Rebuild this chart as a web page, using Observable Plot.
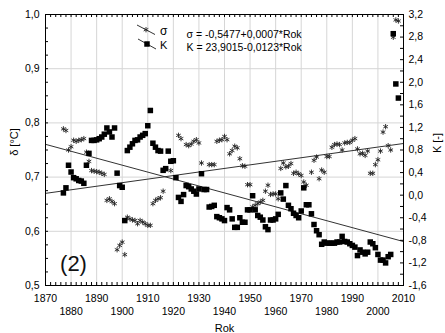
<!DOCTYPE html>
<html><head><meta charset="utf-8">
<script src="https://cdn.jsdelivr.net/npm/d3@7"></script>
<script src="https://cdn.jsdelivr.net/npm/@observablehq/plot@0.6"></script>
<style>body{margin:0;background:#fff} #chart{width:445px;height:333px}</style>
</head><body><div id="chart"></div>
<script>
// ---- data ----
const sigmaYears = [
  1877,1878,1879,1880,1881,1882,1883,1884,1885,1886,
  1887,1888,1889,1890,1891,1892,1893,1894,1895,1896,
  1897,1898,1899,1900,1901,1902,1903,1904,1905,1906,
  1907,1908,1909,1910,1911,1912,1913,1914,1915,1916,
  1919,1920,1922,1923,1925,1926,1927,1928,1929,1930,
  1931,1934,1935,1936,1937,1938,1939,1940,1941,1942,
  1943,1944,1945,1946,1947,1948,1949,1950,1951,1952,
  1953,1954,1955,1956,1957,1958,1959,1960,1961,1962,
  1963,1964,1965,1966,1967,1968,1969,1970,1971,1972,
  1974,1975,1976,1977,1978,1979,1980,1981,1982,1983,
  1984,1985,1986,1987,1988,1989,1990,1991,1992,1993,
  1994,1995,1996,1997,1998,1999,2000,2001,2002,2003,
  2004,2005,2006,2007,2008];
const sigmaValues = [
  0.789,0.786,0.750,0.756,0.768,0.766,0.768,0.769,0.771,0.746,
  0.729,0.712,0.711,0.710,0.709,0.707,0.705,0.657,0.660,0.655,
  0.651,0.566,0.574,0.580,0.557,0.626,0.623,0.621,0.620,0.614,
  0.620,0.617,0.614,0.611,0.611,0.651,0.657,0.660,0.662,0.674,
  0.712,0.730,0.777,0.771,0.760,0.758,0.761,0.766,0.769,0.763,
  0.726,0.723,0.723,0.723,0.766,0.768,0.769,0.775,0.769,0.743,
  0.749,0.757,0.754,0.734,0.721,0.720,0.686,0.686,0.645,0.648,
  0.651,0.654,0.657,0.674,0.685,0.668,0.669,0.669,0.660,0.716,
  0.726,0.719,0.720,0.725,0.707,0.709,0.706,0.703,0.691,0.685,
  0.709,0.731,0.737,0.697,0.713,0.709,0.738,0.738,0.755,0.760,
  0.761,0.760,0.750,0.763,0.764,0.764,0.768,0.771,0.752,0.743,
  0.744,0.740,0.748,0.707,0.707,0.723,0.732,0.748,0.783,0.793,
  0.758,0.750,0.958,0.990,0.988];

const kFirstYear = 1877;
const kValues = [
  0.04, 0.13, 0.53, 0.41, 0.31, 0.29, 0.26, 0.25, 0.21, 0.53,
  0.74, 0.97, 0.97, 0.98, 1.00, 1.03, 1.08, 1.19, 1.12, 1.03,
  1.19, 0.39, 0.17, 0.14,-0.45, 0.79, 0.85, 0.91, 0.97, 0.98,
  1.03, 1.06, 1.09, 1.23, 1.50, 0.92, 0.85, 0.79, 0.78, 0.44,
  0.47, 0.78, 0.60, 0.61, 0.31,-0.04,-0.11, 0.01, 0.17, 0.15,
  0.11, 0.07, 0.02, 0.11, 0.38, 0.10, 0.10,-0.21,-0.20,-0.18,
 -0.38,-0.40,-0.42,-0.45,-0.22,-0.26,-0.42,-0.57,-0.57,-0.40,
 -0.48,-0.48,-0.26,-0.26,-0.01,-0.26,-0.36,-0.39,-0.44,-0.56,
 -0.61,-0.44,-0.44,-0.42,-0.34, 0.04,-0.07, 0.17,-0.18,-0.24,
 -0.32,-0.36,-0.40,-0.28, 0.13,-0.17,-0.17,-0.33,-0.52,-0.63,
 -0.70,-0.87,-0.83,-0.85,-0.85,-0.85,-0.85,-0.83,-0.83,-0.73,
 -0.82,-0.83,-0.86,-0.89,-0.92,-1.07,-0.97,-1.01,-1.04,-1.01,
 -0.83,-0.86,-0.93,-1.05,-1.15,-1.15,-1.20,-1.09,-1.05, 2.86,
  1.97, 1.72];

// trend lines
const kTrendCoef = [23.9015, -0.0123];          // K = a + b*Rok
const sigmaTrendYears = [1870, 2010];
const sigmaTrendValues = [0.670, 0.762];

// axes
const xTicksRow1 = [1870,1890,1910,1930,1950,1970,1990,2010];
const xTicksRow2 = [1880,1900,1920,1940,1960,1980,2000];
const deltaTicks = [0.5,0.6,0.7,0.8,0.9,1.0];
const kTicks = [-1.6,-1.2,-0.8,-0.4,0,0.4,0.8,1.2,1.6,2.0,2.4,2.8,3.2];
const eqSigma = "σ = -0,5477+0,0007*Rok";
const eqK = "K = 23,9015-0,0123*Rok";

// ---- build ----
const dMin = 0.5, dMax = 1.0, kMin = -1.6, kMax = 3.2;
const kToDelta = k => dMin + (k - kMin) * (dMax - dMin) / (kMax - kMin);
const deltaToK = d => kMin + (d - dMin) * (kMax - kMin) / (dMax - dMin);
const fmt1 = v => { let r = Math.round(v * 10) / 10; if (Math.abs(r) < 1e-9) r = 0; return r.toFixed(1).replace(".", ","); };

const sigmaData = sigmaYears.map((y, i) => ({year: y, value: sigmaValues[i]}));
const kData = kValues.map((k, i) => ({year: kFirstYear + i, value: kToDelta(k)}));
const kTrend = sigmaTrendYears.map(y => ({year: y, value: kToDelta(kTrendCoef[0] + kTrendCoef[1] * y)}));
const sTrend = sigmaTrendYears.map((y, i) => ({year: y, value: sigmaTrendValues[i]}));

const W = 445, H = 333, mL = 45, mR = 42, mT = 14, mB = 48;
const fw = W - mL - mR, fh = H - mT - mB;
const gridYears = d3.range(1880, 2010, 10);
const gridDeltas = [0.6, 0.7, 0.8, 0.9];
const minorYears = d3.range(1870, 2011, 2);
const minorDeltas = d3.range(0, 21).map(i => 0.5 + i * 0.025);
const minorK = d3.range(0, 25).map(i => kToDelta(-1.6 + i * 0.2));
const TL = 3;
const mid = {textAnchor: "middle", lineAnchor: "middle"};

const chart = Plot.plot({
  width: W, height: H,
  marginLeft: mL, marginRight: mR, marginTop: mT, marginBottom: mB,
  style: {fontFamily: "'Liberation Sans', Arial, sans-serif", fontSize: "10px", background: "#fff", color: "#000"},
  x: {domain: [1870, 2010], axis: null},
  y: {domain: [dMin, dMax], axis: null},
  marks: [
    Plot.ruleX(gridYears, {stroke: "#d6d6d6", strokeWidth: 1}),
    Plot.ruleY(gridDeltas, {stroke: "#d6d6d6", strokeWidth: 1}),
    Plot.line(sTrend, {x: "year", y: "value", stroke: "#333", strokeWidth: 1}),
    Plot.line(kTrend, {x: "year", y: "value", stroke: "#333", strokeWidth: 1}),
    Plot.dot(sigmaData, {x: "year", y: "value", symbol: "asterisk", r: 2.5, stroke: "#222", strokeWidth: 0.9, fill: "none"}),
    Plot.dot(kData, {x: "year", y: "value", symbol: "square", r: 3.1, fill: "#000", stroke: "none"}),
    Plot.frame({stroke: "#000", strokeWidth: 1}),
    Plot.tickX(minorYears, {x: d => d, insetTop: fh - TL, stroke: "#000"}),
    Plot.tickX(minorYears, {x: d => d, insetBottom: fh - TL, stroke: "#000"}),
    Plot.tickY(minorDeltas, {y: d => d, insetRight: fw - TL, stroke: "#000"}),
    Plot.tickY(minorK, {y: d => d, insetLeft: fw - TL, stroke: "#000"}),
    Plot.axisY({anchor: "left", ticks: deltaTicks, tickSize: 0, tickPadding: 6, tickFormat: fmt1, label: null, fontSize: 10.5}),
    Plot.axisY({anchor: "right", ticks: kTicks.map(kToDelta), tickSize: 0, tickPadding: 5, tickFormat: d => fmt1(deltaToK(d)), label: null, fontSize: 10.5}),
    Plot.axisX({anchor: "bottom", ticks: xTicksRow1, tickSize: 0, tickPadding: 9, tickFormat: d => String(d), label: null, fontSize: 10.5}),
    Plot.axisX({anchor: "bottom", ticks: xTicksRow2, tickSize: 0, tickPadding: 22, tickFormat: d => String(d), label: null, fontSize: 10.5}),
    Plot.text(["Rok"], {frameAnchor: "bottom", dy: 42.5, fontSize: 11, text: d => d, ...mid}),
    Plot.text(["δ [°C]"], {frameAnchor: "left", dx: -31, dy: -8, rotate: -90, fontSize: 11, text: d => d, ...mid}),
    Plot.text(["K [-]"], {frameAnchor: "right", dx: 33.5, dy: -7, rotate: -90, fontSize: 11, text: d => d, ...mid}),
    Plot.text(["(2)"], {frameAnchor: "bottom-left", dx: 28, dy: -22, fontSize: 22, fill: "#111", text: d => d, ...mid})
  ]
});
document.getElementById("chart").appendChild(chart);

// legend (Statistica style: slanted line with marker)
const svg = d3.select(chart);
const lg = svg.append("g").attr("font-family", "'Liberation Sans', Arial, sans-serif").attr("fill", "#000").attr("text-anchor", "start");
lg.append("line").attr("x1", 137).attr("y1", 25).attr("x2", 155).attr("y2", 34.5).attr("stroke", "#333");
lg.append("path").attr("d", d3.symbol(d3.symbolAsterisk, Math.PI * 6.25)()).attr("transform", "translate(146,29.7)").attr("stroke", "#222").attr("stroke-width", 0.9).attr("fill", "none");
lg.append("text").attr("x", 160).attr("y", 35).attr("font-size", 12).text("σ");
lg.append("line").attr("x1", 138).attr("y1", 39).attr("x2", 156).attr("y2", 49).attr("stroke", "#333");
lg.append("path").attr("d", d3.symbol(d3.symbolSquare, Math.PI * 9.6)()).attr("transform", "translate(147,44)").attr("fill", "#000");
lg.append("text").attr("x", 160).attr("y", 48.5).attr("font-size", 11).text("K");
lg.append("text").attr("x", 186.5).attr("y", 37.5).attr("font-size", 10.5).text(eqSigma);
lg.append("text").attr("x", 186.5).attr("y", 50.5).attr("font-size", 10.5).text(eqK);
</script>
</body></html>
